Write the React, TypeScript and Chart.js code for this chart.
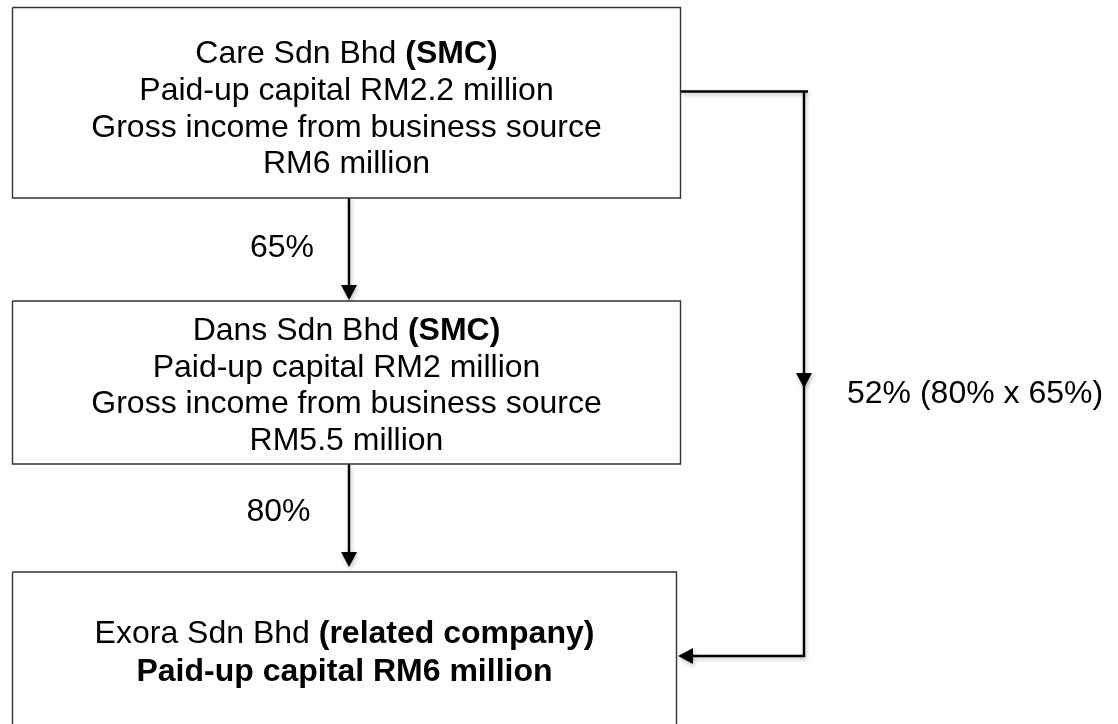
import React, { useEffect, useRef } from "react";
import { Chart, registerables } from "chart.js";

Chart.register(...registerables);

// ---- Diagram data (in diagram units, mapped through the chart's scales) ----
const boxNames = ["Care", "Dans", "Exora"];
const boxLeft = [12.5, 12.5, 12.5];
const boxTop = [7.5, 301, 572];
const boxRight = [680.5, 680.5, 676.5];
const boxBottom = [198, 464, 760];

type Run = { t: string; b: boolean };
const boxTextLines: Run[][][] = [
  [
    [{ t: "Care Sdn Bhd ", b: false }, { t: "(SMC)", b: true }],
    [{ t: "Paid-up capital RM2.2 million", b: false }],
    [{ t: "Gross income from business source", b: false }],
    [{ t: "RM6 million", b: false }],
  ],
  [
    [{ t: "Dans Sdn Bhd ", b: false }, { t: "(SMC)", b: true }],
    [{ t: "Paid-up capital RM2 million", b: false }],
    [{ t: "Gross income from business source", b: false }],
    [{ t: "RM5.5 million", b: false }],
  ],
  [
    [{ t: "Exora Sdn Bhd ", b: false }, { t: "(related company)", b: true }],
    [{ t: "Paid-up capital RM6 million", b: true }],
  ],
];
const boxTextBaselines = [
  [63, 100, 137, 173],
  [340, 377, 413, 450],
  [643, 681],
];

// connectors: polylines
const connectorPaths: { x: number; y: number }[][] = [
  [{ x: 349, y: 198 }, { x: 349, y: 287 }],
  [{ x: 349, y: 464 }, { x: 349, y: 554 }],
  [{ x: 680.5, y: 91.5 }, { x: 808, y: 91.5 }],
  [{ x: 804, y: 91.5 }, { x: 804, y: 656 }, { x: 692, y: 656 }],
];

// arrowheads: tip position + direction
const arrowTipX = [349, 349, 804, 678];
const arrowTipY = [300, 567, 388, 656];
const arrowDir = ["down", "down", "down", "left"];

// labels
const labelTexts = ["65%", "80%", "52% (80% x 65%)"];
const labelX = [282, 278.5, 847];
const labelY = [257, 521, 403];
const labelAlign: CanvasTextAlign[] = ["center", "center", "left"];

const FONT_FAMILY = '"Liberation Sans", Arial, Helvetica, sans-serif';
const FONT_SIZE = 32;

const diagramPlugin = {
  id: "diagramPlugin",
  beforeDatasetDraw(chart: any, args: any) {
    const ds = chart.data.datasets[args.index] as any;
    chart.ctx.save();
    if (ds.isConnector) {
      chart.ctx.shadowColor = "rgba(0,0,0,0.28)";
      chart.ctx.shadowBlur = 4;
      chart.ctx.shadowOffsetX = 1;
      chart.ctx.shadowOffsetY = 2;
    }
  },
  afterDatasetDraw(chart: any) {
    chart.ctx.restore();
  },
  afterDatasetsDraw(chart: any) {
    const ctx: CanvasRenderingContext2D = chart.ctx;
    const xs = chart.scales.x;
    const ys = chart.scales.y;
    const px = (v: number) => xs.getPixelForValue(v);
    const py = (v: number) => ys.getPixelForValue(v);

    // arrowheads
    ctx.save();
    ctx.fillStyle = "#000";
    ctx.shadowColor = "rgba(0,0,0,0.28)";
    ctx.shadowBlur = 4;
    ctx.shadowOffsetX = 1;
    ctx.shadowOffsetY = 2;
    const len = 15;
    const hw = 8;
    for (let i = 0; i < arrowTipX.length; i++) {
      const tx = px(arrowTipX[i]);
      const ty = py(arrowTipY[i]);
      ctx.beginPath();
      if (arrowDir[i] === "down") {
        ctx.moveTo(tx, ty);
        ctx.lineTo(tx - hw, ty - len);
        ctx.lineTo(tx + hw, ty - len);
      } else {
        ctx.moveTo(tx, ty);
        ctx.lineTo(tx + len, ty - hw);
        ctx.lineTo(tx + len, ty + hw);
      }
      ctx.closePath();
      ctx.fill();
    }
    ctx.restore();

    // box texts
    ctx.save();
    ctx.fillStyle = "#000";
    ctx.textBaseline = "alphabetic";
    ctx.textAlign = "left";
    for (let b = 0; b < boxNames.length; b++) {
      const cx = (px(boxLeft[b]) + px(boxRight[b])) / 2;
      const lines = boxTextLines[b];
      for (let l = 0; l < lines.length; l++) {
        const runs = lines[l];
        let total = 0;
        const widths: number[] = [];
        for (const r of runs) {
          ctx.font = `${r.b ? "bold " : ""}${FONT_SIZE}px ${FONT_FAMILY}`;
          const w = ctx.measureText(r.t).width;
          widths.push(w);
          total += w;
        }
        let x = cx - total / 2;
        const y = py(boxTextBaselines[b][l]);
        runs.forEach((r, k) => {
          ctx.font = `${r.b ? "bold " : ""}${FONT_SIZE}px ${FONT_FAMILY}`;
          ctx.fillText(r.t, x, y);
          x += widths[k];
        });
      }
    }

    // labels
    ctx.font = `${FONT_SIZE}px ${FONT_FAMILY}`;
    for (let i = 0; i < labelTexts.length; i++) {
      ctx.textAlign = labelAlign[i];
      ctx.fillText(labelTexts[i], px(labelX[i]), py(labelY[i]));
    }
    ctx.restore();
  },
};

export default function App() {
  const canvasRef = useRef<HTMLCanvasElement | null>(null);

  useEffect(() => {
    if (!canvasRef.current) return;
    const boxDatasets = boxNames.map((name, i) => ({
      label: name,
      data: [
        { x: boxLeft[i], y: boxTop[i] },
        { x: boxRight[i], y: boxTop[i] },
        { x: boxRight[i], y: boxBottom[i] },
        { x: boxLeft[i], y: boxBottom[i] },
        { x: boxLeft[i], y: boxTop[i] },
      ],
      showLine: true,
      borderColor: "#333333",
      borderWidth: 1.4,
      pointRadius: 0,
      tension: 0,
      fill: false,
      borderJoinStyle: "miter" as const,
      isConnector: false,
    }));
    const connectorDatasets = connectorPaths.map((path, i) => ({
      label: "connector" + i,
      data: path,
      showLine: true,
      borderColor: "#000000",
      borderWidth: 2.4,
      pointRadius: 0,
      tension: 0,
      fill: false,
      borderJoinStyle: "miter" as const,
      borderCapStyle: "butt" as const,
      isConnector: true,
    }));

    const chart = new Chart(canvasRef.current, {
      type: "scatter",
      data: { datasets: [...boxDatasets, ...connectorDatasets] as any },
      options: {
        animation: false,
        responsive: false,
        maintainAspectRatio: false,
        devicePixelRatio: 1,
        layout: { padding: 0 },
        plugins: {
          legend: { display: false },
          tooltip: { enabled: false },
        },
        events: [],
        scales: {
          x: { type: "linear", min: 0, max: 1118, display: false },
          y: { type: "linear", min: 0, max: 724, reverse: true, display: false },
        },
      },
      plugins: [diagramPlugin],
    });
    return () => chart.destroy();
  }, []);

  return (
    <div
      style={{
        position: "fixed",
        left: 0,
        top: 0,
        width: 1118,
        height: 724,
        background: "#ffffff",
      }}
    >
      <canvas ref={canvasRef} width={1118} height={724} style={{ display: "block" }} />
    </div>
  );
}
